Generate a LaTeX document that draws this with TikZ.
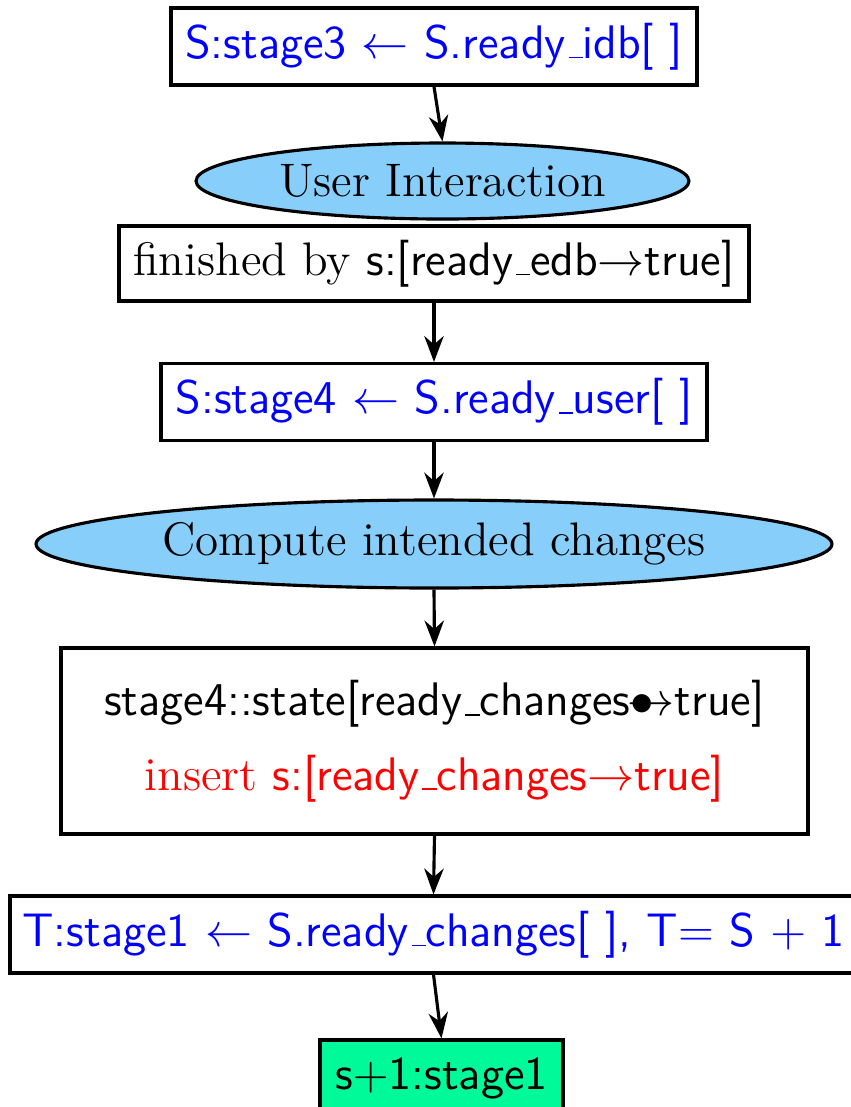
\documentclass[12pt,tikz,border=0pt]{standalone}
\usepackage{tikz}
\usetikzlibrary{
  arrows.meta,
  shapes.geometric,
  positioning
}
\def\pxu{0.255pt}
\newcommand{\usc}{\leavevmode\kern.06em\vbox{\hrule width.3em}}
\definecolor{skyfill}{RGB}{135,206,250}
\definecolor{mintfill}{RGB}{0,250,154}
\tikzset{
  % Rule box (plain rectangle)
  rulebox/.style={
    rectangle, draw=black, fill=#1, thick,
    minimum height={77*\pxu}, inner sep=0pt,
    align=center, font=\sffamily
  },
  % Activity ellipse
  actellipse/.style={
    ellipse, draw=black, fill=skyfill, thick,
    inner sep=0pt, align=center
  },
  % Standard arrow
  flowarrow/.style={
    ->, >=Stealth, thick
  },
}

\begin{document}
\begin{tikzpicture}[x=\pxu, y=-\pxu]

\useasboundingbox (0,0) rectangle (851,1107);

% ── Stage 3 ───────────────────────────────────────────────────────────────────
\node[rulebox=white, minimum width={526*\pxu}, text=blue]
  (stagethree) at (434,46.5)
  {S:stage3 $\leftarrow$ S.ready\usc idb[ ]};

\node[actellipse, minimum width={493*\pxu}, minimum height={76*\pxu}]
  (userint) at (442.5,181)
  {User Interaction};

\node[rulebox=white, minimum width={630*\pxu}, minimum height={75*\pxu}]
  (finished) at (434,263.5)
  {\rmfamily finished by \sffamily s:[ready\usc edb$\rightarrow$true]};

\draw[flowarrow] (stagethree.south) -- (userint.north);

% ── Stage 4 ───────────────────────────────────────────────────────────────────
\node[rulebox=white, minimum width={546*\pxu}, text=blue]
  (stagefour) at (434,402)
  {S:stage4 $\leftarrow$ S.ready\usc user[ ]};

\node[actellipse, minimum width={796*\pxu}, minimum height={88*\pxu}]
  (compute) at (434,544)
  {Compute intended changes};

\node[rulebox=white, minimum width={747*\pxu}, minimum height={186*\pxu}]
  (changes) at (434.5,741)
  {stage4::state[ready\usc changes$\bullet\!\!\!\!\!\rightarrow$true]\\[4.5pt]
   \textcolor{red}{\rmfamily insert \sffamily s:[ready\usc changes$\rightarrow$true]}};

\draw[flowarrow] (finished.south) -- (stagefour.north);
\draw[flowarrow] (stagefour.south) -- (compute.north);
\draw[flowarrow] (compute.south) -- (changes.north);

% ── Next stage ────────────────────────────────────────────────────────────────
\node[rulebox=white, minimum width={847*\pxu}, text=blue]
  (stageone) at (433.5,934.5)
  {T:stage1 $\leftarrow$ S.ready\usc changes[ ], T$=$ S $+$ 1};

\node[rulebox=mintfill, minimum width={243*\pxu}]
  (nextstage) at (441.5,1078.5)
  {s$+$1:stage1};

\draw[flowarrow] (changes.south) -- (stageone.north);
\draw[flowarrow] (stageone.south) -- (nextstage.north);

\end{tikzpicture}
\end{document}
